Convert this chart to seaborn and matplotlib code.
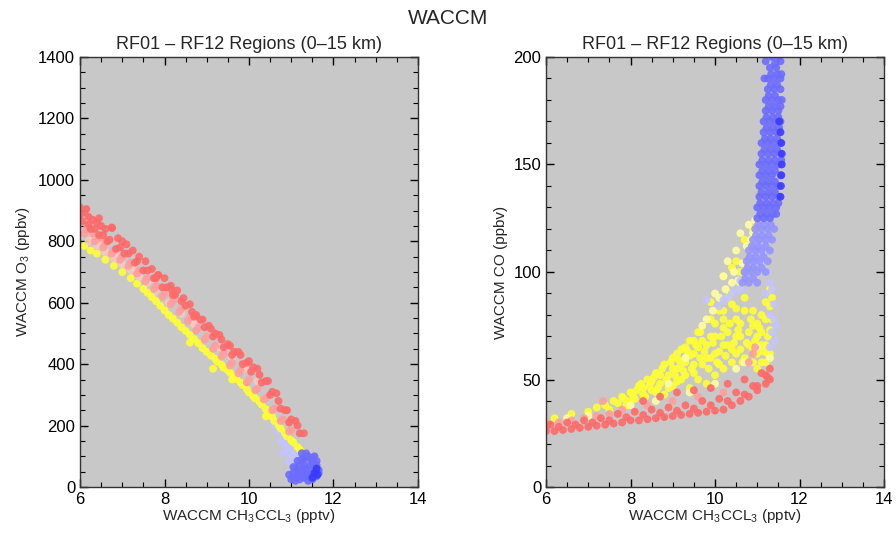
import pandas as pd
import numpy as np
import seaborn as sns
import matplotlib.pyplot as plt
from matplotlib.ticker import MultipleLocator

# ---- left panel: O3 vs CH3CCL3 ----
left_red_x = [6.0, 6.1, 6.2, 6.3, 6.4, 6.5, 6.6, 6.75, 6.9, 7.0, 7.1, 7.25, 7.4, 7.55, 7.7, 7.85, 8.0, 8.15, 8.3,
              8.45, 8.6, 8.75, 8.9, 9.05, 9.2, 9.35, 9.5, 9.65, 9.8, 9.95, 10.1, 10.25, 10.4, 10.55, 10.7, 10.85,
              11.0, 11.15, 11.3,
              6.05, 6.25, 6.45, 6.65, 6.85, 7.05, 7.3, 7.5, 7.75, 7.95, 8.2, 8.4, 8.65, 8.85, 9.1, 9.3, 9.55, 9.75,
              10.0, 10.2, 10.45, 10.65, 10.9, 11.1,
              6.0, 6.2, 6.35, 6.55, 6.7, 6.95, 7.15, 7.35, 7.6, 7.8, 8.05, 8.25, 8.5, 8.7, 8.95, 9.15, 9.4, 9.6,
              9.85, 10.05, 10.3, 10.5, 10.75, 10.95, 11.2,
              6.76, 7.85, 8.18, 6.15, 6.45]
left_red_y = [910, 895, 880, 870, 860, 850, 840, 845, 810, 800, 790, 770, 750, 735, 710, 690, 680, 655, 640,
              615, 595, 560, 545, 525, 500, 480, 465, 440, 430, 405, 390, 365, 345, 310, 280, 250,
              220, 200, 175,
              865, 840, 820, 800, 775, 760, 730, 705, 680, 650, 625, 605, 570, 545, 515, 495, 460, 440,
              410, 385, 345, 305, 250, 215,
              885, 855, 840, 820, 805, 780, 760, 735, 705, 680, 650, 625, 590, 555, 520, 490, 455, 430,
              400, 375, 340, 300, 255, 210, 175,
              843, 690, 641, 905, 875]
left_pink_x = [6.0, 6.15, 6.3, 6.45, 6.6, 6.8, 7.0, 7.2, 7.4, 7.6, 7.8, 8.0, 8.2, 8.4, 8.6, 8.8, 9.0, 9.2, 9.4,
               9.6, 9.8, 10.0, 10.2, 10.4, 10.6, 10.8, 11.0,
               6.1, 6.35, 6.55, 6.75, 6.95, 7.15, 7.35, 7.55, 7.75, 7.95, 8.15, 8.35, 8.55, 8.75, 8.95, 9.15,
               9.35, 9.55, 9.75, 9.95, 10.15, 10.35, 10.55, 10.75, 10.95]
left_pink_y = [860, 840, 825, 810, 795, 770, 750, 730, 705, 680, 655, 630, 605, 580, 550, 520, 490, 460, 435,
               405, 380, 350, 320, 290, 255, 220, 185,
               825, 800, 780, 760, 740, 720, 695, 670, 645, 620, 595, 570, 540, 510, 480, 450,
               425, 395, 370, 340, 315, 285, 250, 215, 180]
left_pale_x = [6.0, 6.2, 6.4, 6.6, 6.8, 7.0, 7.2, 7.4, 7.6, 6.1, 6.3, 6.5, 6.9, 7.3,
               7.8, 8.1, 8.4, 8.7, 9.0, 9.3, 9.6, 9.9, 10.2, 10.5]
left_pale_y = [820, 800, 785, 765, 745, 725, 705, 685, 665, 830, 810, 790, 750, 710,
               640, 600, 565, 530, 490, 455, 420, 385, 345, 300]
left_yellow_x = [6.1, 6.4, 6.8, 7.2, 7.5, 7.7, 7.9, 8.1, 8.3, 8.5, 8.7, 8.9, 9.1, 9.25, 9.4, 9.55, 9.7, 9.85,
                 10.0, 10.15, 10.3, 10.45, 10.6, 10.75, 10.9, 11.05, 11.2, 11.35, 8.6, 9.15, 9.6, 10.4,
                 6.25, 6.6, 7.0, 7.35, 7.6, 7.8, 8.0, 8.2, 8.4, 8.6, 8.8, 9.0, 9.2, 9.35, 9.5, 9.65, 9.8,
                 9.95, 10.1, 10.25, 10.4, 10.55, 10.7, 10.85, 11.0, 11.15, 11.3]
left_yellow_y = [785, 760, 720, 680, 645, 618, 590, 560, 535, 508, 482, 452, 428, 408, 388, 372, 352, 332,
                 308, 288, 268, 242, 215, 190, 165, 145, 122, 105, 470, 385, 350, 230,
                 770, 740, 700, 662, 632, 605, 575, 548, 520, 495, 468, 440, 418, 398, 380, 360, 340,
                 318, 296, 278, 253, 228, 200, 175, 152, 130, 112]
left_lblue_x = [10.5, 10.6, 10.7, 10.75, 10.85, 10.9, 11.0, 11.05, 11.1, 11.15, 10.8, 10.95,
                10.65, 10.8, 10.9, 11.0, 11.1, 11.2, 10.7]
left_lblue_y = [230, 205, 180, 150, 140, 115, 120, 95, 140, 100, 110, 85,
                195, 160, 130, 105, 125, 115, 215]
left_blue_x = [11.0, 11.1, 11.2, 11.3, 11.4, 11.5, 11.6, 11.05, 11.15, 11.25, 11.35, 11.45, 11.55, 11.65,
               11.2, 11.3, 11.4, 11.5, 11.6, 11.3, 11.45, 11.55, 11.15, 11.25,
               11.05, 11.15, 11.25, 11.35, 11.45, 11.55, 11.1, 11.2, 11.35, 11.45, 11.55, 11.65, 11.25,
               11.4, 11.35, 11.5, 11.6, 10.95, 11.05]
left_blue_y = [25, 20, 25, 30, 20, 25, 35, 45, 50, 45, 55, 40, 50, 55, 70, 75, 65, 80, 70, 95, 90, 100, 85, 110,
               30, 35, 35, 40, 30, 35, 60, 55, 60, 55, 65, 45, 90,
               100, 110, 95, 85, 40, 65]
left_dblue_x = [11.55, 11.6, 11.5, 11.62]
left_dblue_y = [45, 60, 30, 40]

# ---- right panel: CO vs CH3CCL3 ----
right_red_x = [6.0, 6.2, 6.4, 6.6, 6.8, 7.0, 7.2, 7.4, 7.6, 7.8, 8.0, 8.2, 8.4, 8.6, 8.8, 9.0, 9.2, 9.4, 9.6,
               9.8, 10.0, 10.2, 10.4, 10.6, 10.8, 11.0, 11.2, 11.3,
               6.1, 6.5, 6.9, 7.3, 7.7, 8.1, 8.5, 8.9, 9.3, 9.7, 10.1, 10.5, 10.9, 11.2,
               8.3, 8.7, 9.1, 9.5, 9.9, 10.3, 10.7, 11.1, 11.3,
               6.0, 6.3, 6.7, 7.1, 7.5, 7.9, 8.3, 8.7, 9.1, 9.5, 9.9, 10.3, 10.7, 11.0, 11.25]
right_red_y = [26, 26, 26.5, 27, 27.5, 28, 28.5, 29, 29.5, 30, 31, 31, 31.5, 32, 32.5, 33, 33.5, 34, 34.5,
               35, 35.5, 36, 38, 40, 42, 45, 48, 50,
               29, 30, 31, 32, 34, 35, 36, 37, 38, 40, 41, 44, 47, 52,
               40, 42, 44, 45, 46, 48, 50, 53, 55,
               28, 28, 29, 30, 31, 32.5, 33.5, 34.5, 35.5, 36.5, 38, 40, 43, 47, 51]
right_pink_x = [6.0, 6.3, 6.6, 6.9, 7.2, 7.5, 7.8, 7.35, 8.4, 9.0, 9.6, 10.2, 10.8, 10.9, 10.95]
right_pink_y = [30, 30, 31, 32, 33, 34, 36, 40, 38, 40, 42, 44, 58, 62, 65]
right_yellow_x = [6.2, 6.6, 7.0, 7.4, 7.6, 7.8, 8.0, 8.0, 8.2, 8.3, 8.4, 8.5, 8.6, 8.7, 8.8, 8.8, 8.9, 9.0,
                  9.0, 9.1, 9.2, 9.2, 9.3, 9.4, 9.4, 9.5, 9.5, 9.6, 9.7, 9.8, 9.8, 9.9, 9.9, 10.0, 10.0,
                  10.1, 10.1, 10.2, 10.2, 10.3, 10.3, 10.4, 10.5, 10.5, 10.6, 10.7, 10.7, 10.8, 10.9, 10.9,
                  11.0, 11.0, 11.1, 11.2, 11.3, 11.3, 11.2, 10.6, 10.8, 10.9, 10.5, 10.7, 9.9, 10.2, 10.4,
                  10.6, 10.8,
                  7.2, 7.5, 7.9, 8.1, 8.3, 8.5, 8.6, 8.7, 8.9, 9.0, 9.1, 9.2, 9.3, 9.4, 9.5, 9.6, 9.6, 9.7,
                  9.8, 9.9, 10.0, 10.0, 10.1, 10.2, 10.2, 10.3, 10.4, 10.4, 10.5, 10.6, 10.6, 10.7, 10.8,
                  10.9, 10.9, 11.0, 11.1, 11.1, 11.2, 11.25, 11.3, 11.35, 11.1, 11.0,
                  7.7, 7.85, 8.05, 8.15, 8.25, 8.35, 8.45, 8.55, 8.65, 8.75, 8.85, 8.95, 9.05, 9.15, 9.25,
                  9.35, 9.45, 9.55, 9.65, 9.75, 9.85, 9.95, 10.05, 10.15, 10.25, 10.35, 10.45, 10.55, 10.65,
                  10.75, 10.85, 10.95, 11.05, 11.15, 11.25, 11.35, 11.2, 11.3, 10.5, 10.35, 10.2, 9.65, 9.5,
                  9.3, 9.1]
right_yellow_y = [32, 34, 35, 38, 40, 42, 44, 40, 47, 43, 50, 45, 53, 48, 57, 43, 52, 60,
                  47, 55, 64, 50, 58, 68, 46, 62, 53, 72, 57, 66, 48, 78, 60, 70, 52,
                  82, 63, 74, 55, 88, 66, 58, 78, 62, 70, 82, 60, 66, 75, 58,
                  70, 62, 80, 66, 92, 73, 58, 100, 110, 120, 105, 115, 86, 98, 102,
                  94, 104,
                  37, 36, 38, 41, 46, 49, 44, 52, 46, 55, 49, 57, 52, 61, 57, 65, 50, 68,
                  60, 70, 62, 76, 57, 66, 82, 72, 64, 85, 70, 76, 64, 88, 72,
                  64, 82, 76, 66, 72, 78, 62, 84, 88, 58, 55,
                  39, 41, 43, 45, 48, 42, 47, 51, 46, 55, 50, 58, 52, 59, 54,
                  63, 55, 66, 60, 63, 55, 67, 58, 70, 61, 76, 67, 73, 58,
                  67, 78, 68, 74, 63, 70, 78, 86, 62, 83, 90, 78, 72, 68,
                  65, 62]
right_cream_x = [10.3, 10.5, 10.6, 10.8, 10.9, 10.4, 9.8, 10.0, 10.2, 6.5, 7.0, 8.0, 8.6, 9.4, 10.0, 11.3,
                 10.45, 10.65, 10.75, 10.95, 10.85, 10.55, 10.25, 9.7, 9.95, 10.1, 9.3, 8.9, 10.5, 11.0, 10.7]
right_cream_y = [105, 110, 118, 122, 118, 95, 78, 90, 98, 32, 33, 38, 40, 44, 48, 60,
                 100, 104, 112, 124, 115, 96, 92, 75, 82, 88, 60, 48, 55, 65, 58]
right_lblue_x = [10.1, 10.3, 10.5, 10.6, 10.7, 10.8, 10.9, 11.0, 11.1, 10.9, 11.0, 11.1, 11.2, 11.3, 11.35,
                 11.4, 11.3, 11.2, 11.4, 11.3, 9.8,
                 10.2, 10.4, 10.6, 10.75, 10.85, 11.0, 11.15, 11.25, 11.35, 11.4, 11.45]
right_lblue_y = [84, 88, 92, 96, 100, 104, 108, 112, 116, 96, 100, 104, 90, 80, 72,
                 85, 95, 110, 68, 65, 87,
                 87, 90, 92, 98, 102, 106, 110, 100, 92, 78, 75]
right_mblue_x = [10.95, 11.1, 11.25, 11.4, 10.9, 11.05, 11.2, 11.35, 10.8, 10.95, 11.1, 11.3, 10.75, 10.9,
                 11.05, 11.25, 10.7, 10.85, 11.0, 11.2, 10.65, 10.8, 11.0,
                 11.02, 11.17, 11.32, 10.97, 11.12, 11.27, 10.87, 11.02, 11.2, 10.82, 10.97, 11.15,
                 10.77, 10.92, 11.1, 10.72, 10.9]
right_mblue_y = [120, 120, 120, 120, 115, 115, 115, 115, 110, 110, 110, 110, 105, 105,
                 105, 105, 100, 100, 100, 100, 95, 95, 95,
                 122, 122, 122, 117, 117, 117, 112, 112, 112, 107, 107, 107,
                 102, 102, 102, 97, 97]
right_blue_x = [11.35, 11.5, 11.3, 11.45, 11.25, 11.4, 11.55, 11.25, 11.4, 11.55, 11.2, 11.35, 11.5,
                11.2, 11.35, 11.5, 11.15, 11.3, 11.45, 11.55, 11.15, 11.3, 11.45, 11.1, 11.25, 11.4, 11.55,
                11.1, 11.25, 11.4, 11.55, 11.05, 11.2, 11.35, 11.5, 11.05, 11.2, 11.35, 11.55,
                11.05, 11.2, 11.35, 11.5, 11.05, 11.2, 11.35, 11.5, 11.0, 11.15, 11.3, 11.45,
                11.0, 11.15, 11.3,
                11.42, 11.33, 11.48, 11.32, 11.47, 11.27, 11.42, 11.27, 11.42, 11.55, 11.22, 11.37, 11.5,
                11.22, 11.37, 11.52, 11.18, 11.32, 11.47, 11.17, 11.32, 11.47, 11.12, 11.27, 11.42, 11.57,
                11.12, 11.27, 11.42, 11.12, 11.27, 11.42, 11.1, 11.27, 11.42, 11.07, 11.22, 11.37, 11.5,
                11.07, 11.22, 11.37, 11.45,
                11.55, 11.57, 11.58, 11.2, 11.17]
right_blue_y = [200, 200, 195, 195, 190, 190, 190, 185, 185, 185, 180, 180, 180,
                175, 175, 175, 170, 170, 170, 170, 165, 165, 165, 160, 160, 160, 160,
                155, 155, 155, 155, 150, 150, 150, 150, 145, 145, 145, 145,
                140, 140, 140, 140, 135, 135, 135, 135, 130, 130, 130, 130,
                125, 125, 125,
                197, 192, 192, 187, 187, 182, 182, 177, 177, 177, 172, 172, 172,
                167, 167, 167, 162, 162, 162, 157, 157, 157, 152, 152, 152, 152,
                147, 147, 147, 142, 142, 142, 137, 137, 137, 132, 132, 132, 132,
                127, 127, 127, 127,
                198, 192, 180, 198, 190]
right_dblue_x = [11.55, 11.56, 11.57, 11.58, 11.58, 11.57, 11.55, 11.52]
right_dblue_y = [135, 140, 145, 150, 155, 160, 165, 170]

colors = {
    'red': '#ff6a6a', 'pink': '#ff9e9e', 'pale': '#f8c8c0', 'yellow': '#ffff33', 'cream': '#ffff9e',
    'lblue': '#c4c4ff', 'mblue': '#9494ff', 'blue': '#6c6cff', 'dblue': '#3a3aff',
}


def make_df(groups):
    frames = []
    for name, xs, ys in groups:
        frames.append(pd.DataFrame({'x': xs, 'y': ys, 'group': name}))
    return pd.concat(frames, ignore_index=True)


# draw order = row order
left_df = make_df([
    ('lblue', left_lblue_x, left_lblue_y),
    ('yellow', left_yellow_x, left_yellow_y),
    ('pale', left_pale_x, left_pale_y),
    ('pink', left_pink_x, left_pink_y),
    ('red', left_red_x, left_red_y),
    ('blue', left_blue_x, left_blue_y),
    ('dblue', left_dblue_x, left_dblue_y),
])
right_df = make_df([
    ('yellow', right_yellow_x, right_yellow_y),
    ('cream', right_cream_x, right_cream_y),
    ('pink', right_pink_x, right_pink_y),
    ('red', right_red_x, right_red_y),
    ('lblue', right_lblue_x, right_lblue_y),
    ('mblue', right_mblue_x, right_mblue_y),
    ('blue', right_blue_x, right_blue_y),
    ('dblue', right_dblue_x, right_dblue_y),
])

sns.set_style('ticks')
plt.rcParams['font.family'] = ['Liberation Sans', 'DejaVu Sans']
plt.rcParams['mathtext.fontset'] = 'custom'
plt.rcParams['mathtext.rm'] = 'Liberation Sans'
plt.rcParams['mathtext.it'] = 'Liberation Sans'

fig = plt.figure(figsize=(8.96, 5.36), dpi=100)
ax1 = fig.add_axes([0.0893, 0.0914, 0.3772, 0.8023])
ax2 = fig.add_axes([0.6094, 0.0914, 0.3772, 0.8023])

for ax, df in [(ax1, left_df), (ax2, right_df)]:
    ax.set_facecolor('#c8c8c8')
    sns.scatterplot(data=df, x='x', y='y', hue='group', palette=colors, s=32, linewidth=0,
                    alpha=0.9, legend=False, ax=ax)
    ax.set_xlim(6, 14)
    ax.xaxis.set_major_locator(MultipleLocator(2))
    ax.xaxis.set_minor_locator(MultipleLocator(0.5))
    ax.tick_params(which='both', direction='in', top=True, right=True, labelsize=12, colors='black')
    ax.tick_params(which='major', length=6, width=1)
    ax.tick_params(which='minor', length=3.5, width=0.8)
    for sp in ax.spines.values():
        sp.set_linewidth(1)
        sp.set_color('#333333')
    ax.set_title('RF01 – RF12 Regions (0–15 km)', fontsize=13, pad=6)
    ax.set_xlabel(r'WACCM CH$_3$CCL$_3$ (pptv)', fontsize=11, labelpad=0)

ax1.set_ylim(0, 1400)
ax1.yaxis.set_major_locator(MultipleLocator(200))
ax1.yaxis.set_minor_locator(MultipleLocator(50))
ax1.set_ylabel(r'WACCM O$_3$ (ppbv)', fontsize=11)

ax2.set_ylim(0, 200)
ax2.yaxis.set_major_locator(MultipleLocator(50))
ax2.yaxis.set_minor_locator(MultipleLocator(10))
ax2.set_ylabel('WACCM CO (ppbv)', fontsize=11)

fig.text(0.5, 0.965, 'WACCM', ha='center', va='center', fontsize=15)

plt.savefig('out.png', dpi=100)
